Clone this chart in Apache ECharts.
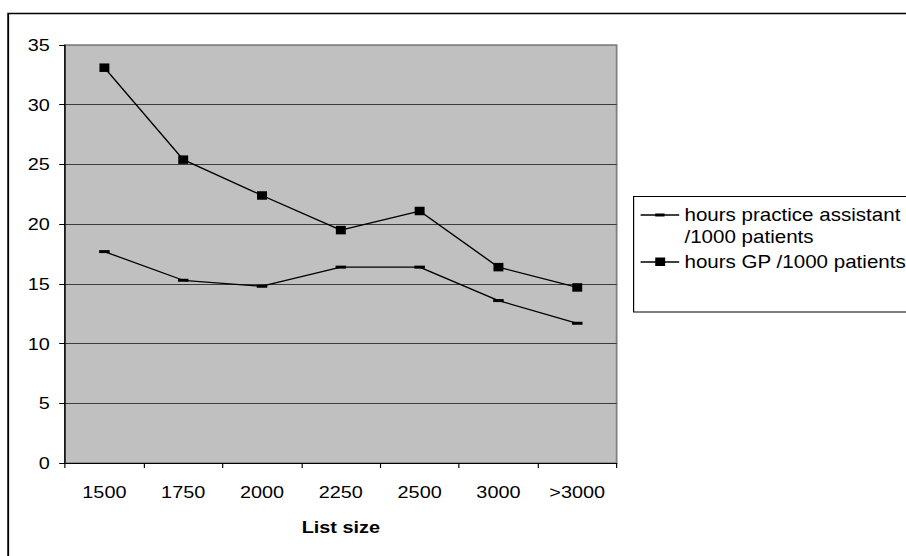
<!DOCTYPE html>
<html>
<head>
<meta charset="utf-8">
<script src="https://cdn.jsdelivr.net/npm/echarts@6/dist/echarts.min.js"></script>
<style>
  html, body { margin: 0; padding: 0; background: #fff; overflow: hidden; }
  #wrap { width: 906px; height: 556px; overflow: hidden; }
  /* drawing is laid out narrower and widened, like the stretched spreadsheet chart */
  #chart { width: 775px; height: 556px; transform: scaleX(1.169); transform-origin: 0 0; }
</style>
</head>
<body>
<div id="wrap"><div id="chart"></div></div>
<script>
// List-size bands on the x axis
const categories = ['1500', '1750', '2000', '2250', '2500', '3000', '>3000'];
// Hours of practice assistant per 1000 patients
const assistantHours = [17.7, 15.3, 14.8, 16.4, 16.4, 13.6, 11.7];
// Hours of GP per 1000 patients
const gpHours = [33.1, 25.4, 22.4, 19.5, 21.1, 16.4, 14.7];
// Value-axis ticks
const yTicks = [0, 5, 10, 15, 20, 25, 30, 35];
const seriesNames = ['hours practice assistant /1000 patients', 'hours GP /1000 patients'];
const legendLines = [['hours practice assistant', '/1000 patients'], ['hours GP /1000 patients']];
const xAxisTitle = 'List size';

const FONT = 'Liberation Sans, Arial, sans-serif';
const chart = echarts.init(document.getElementById('chart'), null, { renderer: 'svg' });

const gridLineColors = yTicks.map((v, i) => (i === yTicks.length - 1 ? '#808080' : '#3c3c3c'));

// Legend panel drawn as a framed box with line + marker swatches
function legendItem(lines, y, marker) {
  return [
    { type: 'line', shape: { x1: 548, y1: y, x2: 581, y2: y }, style: { stroke: '#000', lineWidth: 1.3 } },
    marker,
    {
      type: 'text', x: 585.5, y: y - 11,
      style: { text: lines.join('\n'), font: '17.6px ' + FONT, fill: '#000', lineHeight: 22, verticalAlign: 'top' }
    }
  ];
}

const legendGraphics = [].concat(
  legendItem(legendLines[0], 215, {
    type: 'rect', shape: { x: 560.5, y: 213.5, width: 8, height: 3 }, style: { fill: '#000' }
  }),
  legendItem(legendLines[1], 262, {
    type: 'rect', shape: { x: 560.5, y: 257.5, width: 8.5, height: 8.5 }, style: { fill: '#000' }
  })
);

chart.setOption({
  animation: false,
  backgroundColor: '#fff',
  grid: {
    left: 55.6, right: 247.5, top: 45, bottom: 93,
    show: true, backgroundColor: '#c0c0c0', borderColor: '#808080', borderWidth: 1.5
  },
  xAxis: {
    type: 'category',
    data: categories,
    boundaryGap: true,
    name: xAxisTitle,
    nameLocation: 'middle',
    nameGap: 56,
    nameTextStyle: { fontFamily: FONT, fontSize: 17, fontWeight: 'bold', color: '#000' },
    axisLine: { lineStyle: { color: '#000', width: 1.2 } },
    axisTick: { show: true, length: 5, inside: false, lineStyle: { color: '#000' } },
    axisLabel: { fontFamily: FONT, fontSize: 17, color: '#000', margin: 21 },
    splitLine: { show: false }
  },
  yAxis: {
    type: 'value',
    min: yTicks[0], max: yTicks[yTicks.length - 1], interval: yTicks[1] - yTicks[0],
    axisLine: { show: true, lineStyle: { color: '#000', width: 1.2 } },
    axisTick: { show: true, length: 5, inside: false, lineStyle: { color: '#000' } },
    axisLabel: { fontFamily: FONT, fontSize: 17, color: '#000', margin: 13 },
    splitLine: { show: true, lineStyle: { color: gridLineColors, width: 1.2 } }
  },
  series: [
    {
      name: seriesNames[0], type: 'line', data: assistantHours,
      symbol: 'rect', symbolSize: [9, 3], showSymbol: true,
      lineStyle: { color: '#000', width: 1.3 }, itemStyle: { color: '#000' }
    },
    {
      name: seriesNames[1], type: 'line', data: gpHours,
      symbol: 'rect', symbolSize: [8.5, 8.5], showSymbol: true,
      lineStyle: { color: '#000', width: 1.3 }, itemStyle: { color: '#000' }
    }
  ],
  graphic: [
    // outer chart frame (left and top edges visible)
    { type: 'rect', shape: { x: 7, y: 13.5, width: 2000, height: 2000 }, style: { fill: 'none', stroke: '#000', lineWidth: 1.6 }, silent: true },
    // legend frame
    { type: 'rect', shape: { x: 542, y: 196.5, width: 400, height: 115.5 }, style: { fill: '#fff', stroke: '#000', lineWidth: 1 }, silent: true }
  ].concat(legendGraphics)
});
</script>
</body>
</html>
